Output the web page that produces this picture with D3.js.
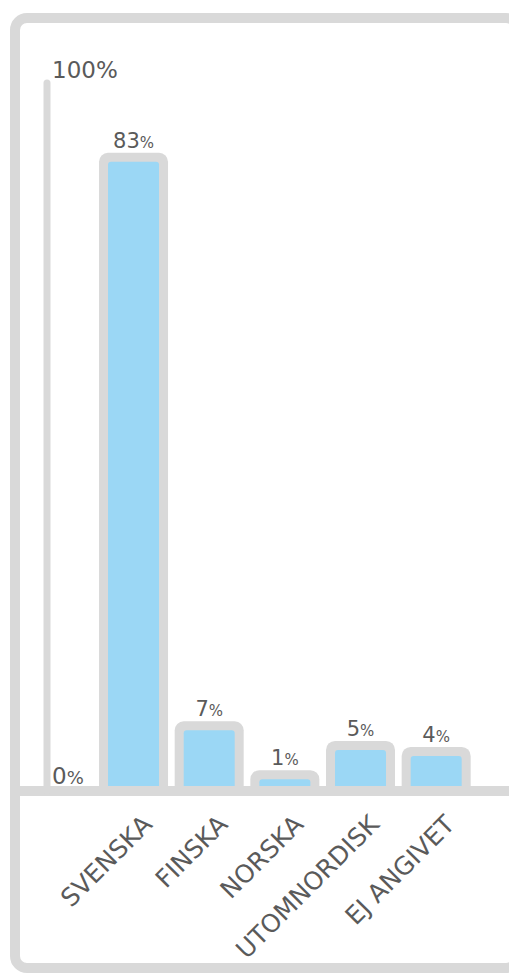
<!DOCTYPE html>
<html>
<head>
<meta charset="utf-8">
<script src="https://cdn.jsdelivr.net/npm/d3@7"></script>
<style>
  html, body { margin: 0; padding: 0; background: #fff; overflow: hidden; }
  svg { display: block; font-family: "DejaVu Sans", Verdana, sans-serif; }
</style>
</head>
<body>
<div id="chart"></div>
<script>
// language shares, percent (bar heights)
const categories = ["SVENSKA", "FINSKA", "NORSKA", "UTOMNORDISK", "EJ ANGIVET"];
const values = [83, 7.4, 0.9, 4.8, 4.0];
const axisTicks = [0, 100];

const W = 509, H = 976;
const grey = "#d9d9d9", blue = "#9bd7f5", textCol = "#5a5a5a";

const svg = d3.select("#chart").append("svg")
    .attr("width", W)
    .attr("height", H);

// frame
svg.append("rect")
    .attr("x", 15).attr("y", 18)
    .attr("width", 503).attr("height", 950)
    .attr("rx", 12)
    .attr("fill", "none")
    .attr("stroke", grey)
    .attr("stroke-width", 10);

const baseY = 786;

const x = d3.scaleBand()
    .domain(categories)
    .range([95.7, 474])
    .paddingInner(0)
    .paddingOuter(0);

const y = d3.scaleLinear()
    .domain([0, 100])
    .range([baseY, 34]);

// bars
const bars = svg.append("g").selectAll("g")
    .data(categories)
    .join("g")
    .attr("transform", d => `translate(${x(d) + x.bandwidth() / 2},0)`);

bars.append("rect")
    .attr("x", -34.5)
    .attr("y", (d, i) => y(values[i]) - 9)
    .attr("width", 69)
    .attr("height", (d, i) => 795 - (y(values[i]) - 9))
    .attr("rx", 9)
    .attr("fill", grey);

bars.append("rect")
    .attr("x", -25.5)
    .attr("y", (d, i) => y(values[i]))
    .attr("width", 51)
    .attr("height", (d, i) => baseY + 5 - y(values[i]))
    .attr("rx", 3)
    .attr("fill", blue);

// value labels
const vlab = bars.append("text")
    .attr("y", (d, i) => y(values[i]) - 14)
    .attr("text-anchor", "middle")
    .attr("fill", textCol);
vlab.append("tspan")
    .style("font-size", "21px")
    .text((d, i) => Math.round(values[i]));
vlab.append("tspan")
    .style("font-size", "15px")
    .text("%");

// baseline
svg.append("line")
    .attr("x1", 10).attr("x2", W)
    .attr("y1", 791).attr("y2", 791)
    .attr("stroke", grey)
    .attr("stroke-width", 10);

// vertical axis
svg.append("line")
    .attr("x1", 47).attr("x2", 47)
    .attr("y1", 83).attr("y2", 791)
    .attr("stroke", grey)
    .attr("stroke-width", 7)
    .attr("stroke-linecap", "round");

// axis labels
svg.append("text")
    .attr("x", 52).attr("y", 78)
    .attr("fill", textCol)
    .style("font-size", "23px")
    .text(axisTicks[1] + "%");

const zero = svg.append("text")
    .attr("x", 52).attr("y", 784)
    .attr("fill", textCol);
zero.append("tspan").style("font-size", "23px").text(axisTicks[0]);
zero.append("tspan").style("font-size", "18px").text("%");

// category labels
svg.append("g").selectAll("text")
    .data(categories)
    .join("text")
    .attr("transform", d => `translate(${x(d) + x.bandwidth() / 2 + 20},826) rotate(-45)`)
    .attr("text-anchor", "end")
    .attr("fill", textCol)
    .style("font-size", "25px")
    .text(d => d);
</script>
</body>
</html>
